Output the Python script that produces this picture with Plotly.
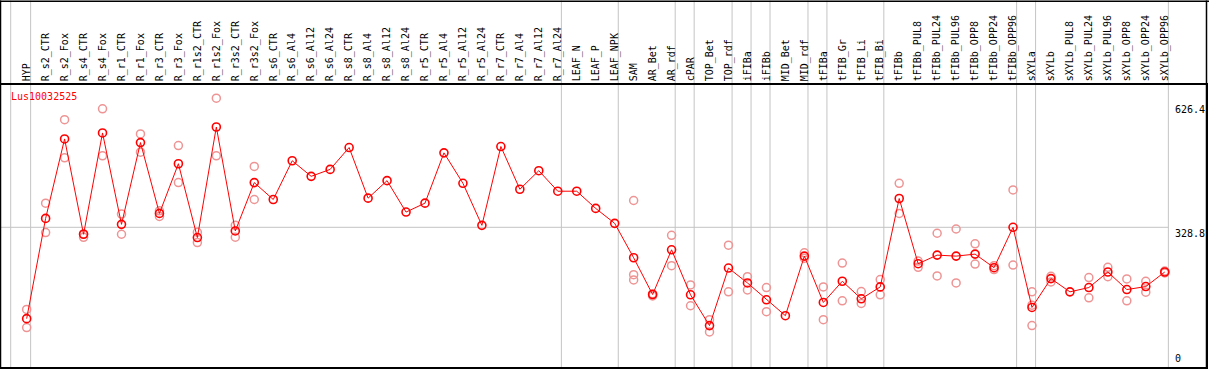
import plotly.graph_objects as go

categories = ["HYP", "R_s2_CTR", "R_s2_Fox", "R_s4_CTR", "R_s4_Fox", "R_r1_CTR", "R_r1_Fox",
              "R_r3_CTR", "R_r3_Fox", "R_r1s2_CTR", "R_r1s2_Fox", "R_r3s2_CTR", "R_r3s2_Fox",
              "R_s6_CTR", "R_s6_Al4", "R_s6_Al12", "R_s6_Al24", "R_s8_CTR", "R_s8_Al4", "R_s8_Al12",
              "R_s8_Al24", "R_r5_CTR", "R_r5_Al4", "R_r5_Al12", "R_r5_Al24", "R_r7_CTR", "R_r7_Al4",
              "R_r7_Al12", "R_r7_Al24", "LEAF_N", "LEAF_P", "LEAF_NPK", "SAM", "AR_Bet", "AR_rdf",
              "cPAR", "TOP_Bet", "TOP_rdf", "iFIBa", "iFIBb", "MID_Bet", "MID_rdf", "tFIBa",
              "tFIB_Gr", "tFIB_Li", "tFIB_Bi", "tFIBb", "tFIBb_PUL8", "tFIBb_PUL24", "tFIBb_PUL96",
              "tFIBb_OPP8", "tFIBb_OPP24", "tFIBb_OPP96", "sXYLa", "sXYLb", "sXYLb_PUL8",
              "sXYLb_PUL24", "sXYLb_PUL96", "sXYLb_OPP8", "sXYLb_OPP24", "sXYLb_OPP96"]

mean_values = [110.7, 350.1, 539.8, 312.2, 554.1, 335.9, 531.1, 362.0, 480.6, 304.3,
               568.3, 320.1, 435.5, 395.2, 487.7, 450.5, 467.1, 519.3, 398.4, 440.2,
               365.2, 386.5, 506.6, 433.9, 333.5, 521.7, 419.7, 464.0, 415.0, 415.0,
               373.9, 338.3, 256.1, 168.4, 275.1, 167.6, 94.1, 231.6, 196.0, 155.7,
               117.8, 260.0, 149.4, 200.0, 158.1, 186.5, 397.6, 241.9, 262.4, 260.0,
               264.8, 232.4, 328.8, 137.5, 206.3, 174.7, 185.0, 222.1, 180.2, 187.3,
               222.1]

rep_a = [132.8, 386.5, 585.7, 313.0, 611.8, 360.4, 551.7, 368.3, 524.0, 317.0,
         637.1, 333.5, 474.2, None, None, None, None, None, None, None,
         None, None, None, None, None, None, None, None, None, None,
         None, None, 392.8, 170.0, 309.8, 191.3, 108.3, 286.1, 211.0, 185.0,
         None, 268.0, 186.5, 243.4, 175.5, 203.9, 433.9, 248.2, 314.6, 324.8,
         289.3, 237.1, 418.1, 174.7, 211.8, None, 208.7, 233.2, 205.5, 200.0,
         224.5]

rep_b = [89.3, 316.2, 494.8, 305.0, 499.5, 312.2, 508.2, 354.9, 435.5, 292.4,
         499.5, 305.1, 395.2, None, None, None, None, None, None, None,
         None, None, None, None, None, None, None, None, None, None,
         None, None, 215.8, 165.0, 237.1, 141.5, 79.0, 174.7, 179.4, 127.3,
         None, 255.0, 108.3, 153.3, 147.0, 167.6, 362.0, 233.2, 212.6, 196.0,
         241.1, 228.0, 238.7, 94.1, 198.4, None, 160.4, 211.0, 153.3, 173.9,
         219.7]

rep_c = [None] * 32 + [203.1] + [None] * 20 + [143.0] + [None] * 7

y_ticks = [0, 328.8, 626.4]
tick_labels = ["0", "328.8", "626.4"]
group_lines = [-0.842, 0.21, 28.19, 31.19, 34.19, 35.19, 37.19, 38.19, 39.19,
               41.19, 42.19, 45.19, 52.19, 53.19, 60.19]

FONT = "DejaVu Sans Mono"
W, H = 1209, 370
ML, MR, MT, MB = 1, 1, 85, 1
plot_h = H - MT - MB
plot_w = W - ML - MR
x_idx = list(range(len(categories)))

fig = go.Figure()

rep_x, rep_y = [], []
for reps in (rep_a, rep_b, rep_c):
    for i, v in enumerate(reps):
        if v is not None:
            rep_x.append(i)
            rep_y.append(v)

fig.add_trace(go.Scatter(
    x=rep_x, y=rep_y, mode="markers",
    marker=dict(symbol="circle-open", size=8, color="#EE9494", line=dict(width=1.5, color="#EE9494")),
    hoverinfo="skip", showlegend=False))

fig.add_trace(go.Scatter(
    x=x_idx, y=mean_values, mode="lines+markers",
    line=dict(color="#FF0000", width=1),
    marker=dict(symbol="circle-open", size=8, color="#FF0000", line=dict(width=1.6, color="#FF0000")),
    showlegend=False))

top_paper = 1 + MT / plot_h
shapes = []
for gx in group_lines:
    shapes.append(dict(type="line", xref="x", yref="paper", x0=gx, x1=gx, y0=0, y1=top_paper,
                       line=dict(color="#C4C4C4", width=1), layer="below"))
shapes.append(dict(type="line", xref="paper", yref="y", x0=0, x1=(60.19 + 1.3526) / (62.174 + 1.3526),
                   y0=328.8, y1=328.8, line=dict(color="#C4C4C4", width=1), layer="below"))
# outer frame around the label band
shapes.append(dict(type="line", xref="paper", yref="paper", x0=-0.01, x1=1.01,
                   y0=top_paper - 0.75 / plot_h, y1=top_paper - 0.75 / plot_h,
                   line=dict(color="black", width=1.5)))
shapes.append(dict(type="line", xref="paper", yref="paper", x0=-0.5 / plot_w, x1=-0.5 / plot_w,
                   y0=0, y1=top_paper, line=dict(color="black", width=1.5)))
shapes.append(dict(type="line", xref="paper", yref="paper", x0=1 + 0.5 / plot_w, x1=1 + 0.5 / plot_w,
                   y0=0, y1=top_paper, line=dict(color="black", width=1.5)))

annotations = [dict(text="Lus10032525", xref="paper", yref="paper", x=8 / plot_w,
                    y=1 - (97 - MT) / plot_h, xanchor="left", yanchor="middle", showarrow=False,
                    font=dict(family=FONT, size=10, color="#FF0000"))]
for val, lab in zip(y_ticks, tick_labels):
    annotations.append(dict(text=lab, xref="paper", yref="y", x=(1176 - ML) / plot_w, y=val,
                            xanchor="left", yanchor="bottom" if val == 0 else "top", showarrow=False,
                            font=dict(family=FONT, size=10, color="black"), borderpad=0))

fig.update_layout(
    width=W, height=H,
    margin=dict(l=ML, r=MR, t=MT, b=MB),
    paper_bgcolor="white", plot_bgcolor="white",
    shapes=shapes, annotations=annotations,
    xaxis=dict(range=[-1.3526, 62.174], tickmode="array", tickvals=x_idx, ticktext=categories,
               side="top", tickangle=-90, tickfont=dict(family=FONT, size=10, color="black"),
               showgrid=False, zeroline=False, showline=True, mirror=True, linecolor="black",
               linewidth=1.5, ticks="", fixedrange=True),
    yaxis=dict(range=[-4.74, 668.6], showticklabels=False, showgrid=False, zeroline=False,
               showline=True, mirror=True, linecolor="black", linewidth=1.5, ticks="",
               fixedrange=True),
)

fig.write_html("out.html", config={"displayModeBar": False},
               post_script="document.body.style.margin='0';document.body.style.overflow='hidden';")
